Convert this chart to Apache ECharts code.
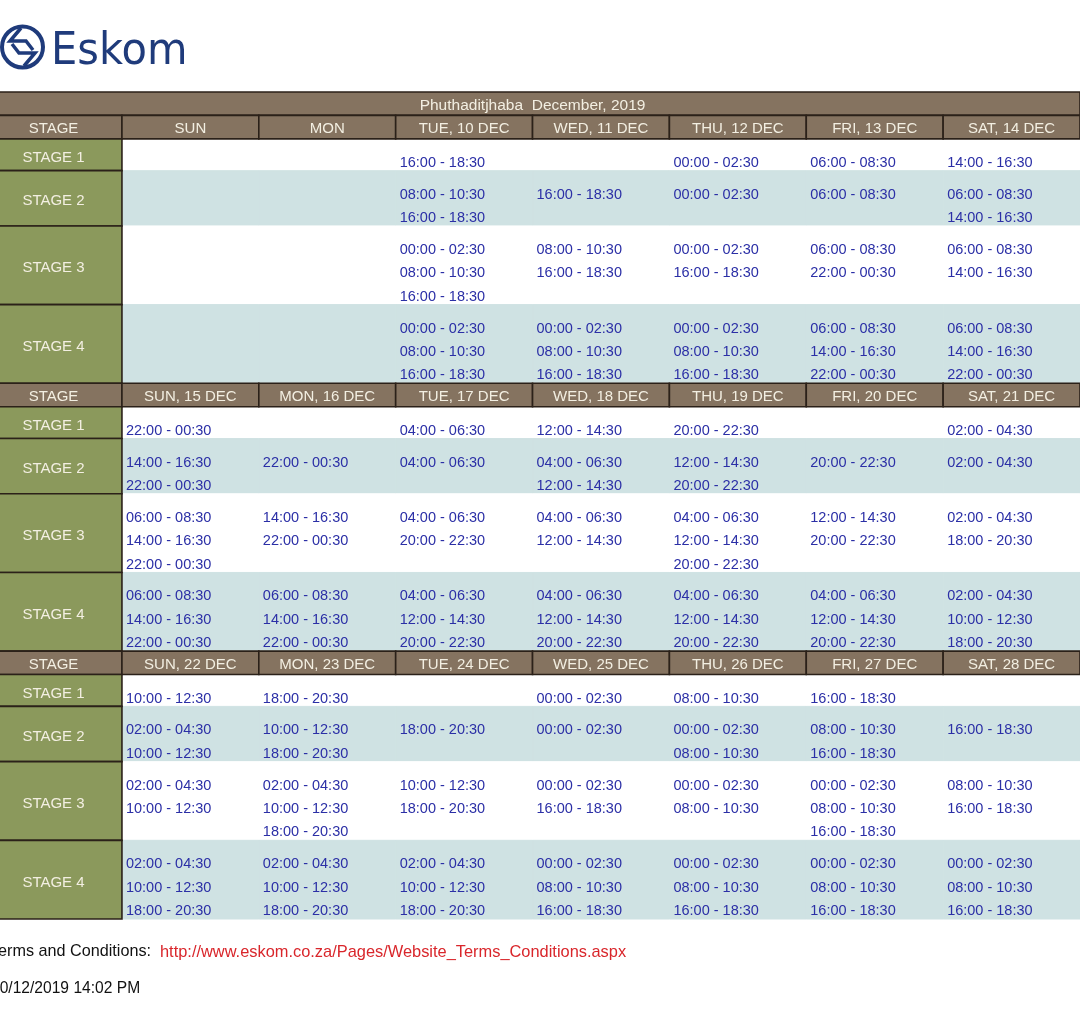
<!DOCTYPE html>
<html>
<head>
<meta charset="utf-8">
<script src="https://cdn.jsdelivr.net/npm/echarts@6/dist/echarts.min.js"></script>
<style>
  html, body { margin: 0; padding: 0; background: #fff; }
  #chart { width: 1080px; height: 1010px; }
</style>
</head>
<body>
<div id="chart"></div>
<script>
// schedule data
const title = 'Phuthaditjhaba  December, 2019';
const stages = ['STAGE 1', 'STAGE 2', 'STAGE 3', 'STAGE 4'];

const week1Days = ['SUN', 'MON', 'TUE, 10 DEC', 'WED, 11 DEC', 'THU, 12 DEC', 'FRI, 13 DEC', 'SAT, 14 DEC'];
const week1Slots = [
  [[], [], ['16:00 - 18:30'], [], ['00:00 - 02:30'], ['06:00 - 08:30'], ['14:00 - 16:30']],
  [[], [], ['08:00 - 10:30', '16:00 - 18:30'], ['16:00 - 18:30'], ['00:00 - 02:30'], ['06:00 - 08:30'], ['06:00 - 08:30', '14:00 - 16:30']],
  [[], [], ['00:00 - 02:30', '08:00 - 10:30', '16:00 - 18:30'], ['08:00 - 10:30', '16:00 - 18:30'], ['00:00 - 02:30', '16:00 - 18:30'], ['06:00 - 08:30', '22:00 - 00:30'], ['06:00 - 08:30', '14:00 - 16:30']],
  [[], [], ['00:00 - 02:30', '08:00 - 10:30', '16:00 - 18:30'], ['00:00 - 02:30', '08:00 - 10:30', '16:00 - 18:30'], ['00:00 - 02:30', '08:00 - 10:30', '16:00 - 18:30'], ['06:00 - 08:30', '14:00 - 16:30', '22:00 - 00:30'], ['06:00 - 08:30', '14:00 - 16:30', '22:00 - 00:30']]
];

const week2Days = ['SUN, 15 DEC', 'MON, 16 DEC', 'TUE, 17 DEC', 'WED, 18 DEC', 'THU, 19 DEC', 'FRI, 20 DEC', 'SAT, 21 DEC'];
const week2Slots = [
  [['22:00 - 00:30'], [], ['04:00 - 06:30'], ['12:00 - 14:30'], ['20:00 - 22:30'], [], ['02:00 - 04:30']],
  [['14:00 - 16:30', '22:00 - 00:30'], ['22:00 - 00:30'], ['04:00 - 06:30'], ['04:00 - 06:30', '12:00 - 14:30'], ['12:00 - 14:30', '20:00 - 22:30'], ['20:00 - 22:30'], ['02:00 - 04:30']],
  [['06:00 - 08:30', '14:00 - 16:30', '22:00 - 00:30'], ['14:00 - 16:30', '22:00 - 00:30'], ['04:00 - 06:30', '20:00 - 22:30'], ['04:00 - 06:30', '12:00 - 14:30'], ['04:00 - 06:30', '12:00 - 14:30', '20:00 - 22:30'], ['12:00 - 14:30', '20:00 - 22:30'], ['02:00 - 04:30', '18:00 - 20:30']],
  [['06:00 - 08:30', '14:00 - 16:30', '22:00 - 00:30'], ['06:00 - 08:30', '14:00 - 16:30', '22:00 - 00:30'], ['04:00 - 06:30', '12:00 - 14:30', '20:00 - 22:30'], ['04:00 - 06:30', '12:00 - 14:30', '20:00 - 22:30'], ['04:00 - 06:30', '12:00 - 14:30', '20:00 - 22:30'], ['04:00 - 06:30', '12:00 - 14:30', '20:00 - 22:30'], ['02:00 - 04:30', '10:00 - 12:30', '18:00 - 20:30']]
];

const week3Days = ['SUN, 22 DEC', 'MON, 23 DEC', 'TUE, 24 DEC', 'WED, 25 DEC', 'THU, 26 DEC', 'FRI, 27 DEC', 'SAT, 28 DEC'];
const week3Slots = [
  [['10:00 - 12:30'], ['18:00 - 20:30'], [], ['00:00 - 02:30'], ['08:00 - 10:30'], ['16:00 - 18:30'], []],
  [['02:00 - 04:30', '10:00 - 12:30'], ['10:00 - 12:30', '18:00 - 20:30'], ['18:00 - 20:30'], ['00:00 - 02:30'], ['00:00 - 02:30', '08:00 - 10:30'], ['08:00 - 10:30', '16:00 - 18:30'], ['16:00 - 18:30']],
  [['02:00 - 04:30', '10:00 - 12:30'], ['02:00 - 04:30', '10:00 - 12:30', '18:00 - 20:30'], ['10:00 - 12:30', '18:00 - 20:30'], ['00:00 - 02:30', '16:00 - 18:30'], ['00:00 - 02:30', '08:00 - 10:30'], ['00:00 - 02:30', '08:00 - 10:30', '16:00 - 18:30'], ['08:00 - 10:30', '16:00 - 18:30']],
  [['02:00 - 04:30', '10:00 - 12:30', '18:00 - 20:30'], ['02:00 - 04:30', '10:00 - 12:30', '18:00 - 20:30'], ['02:00 - 04:30', '10:00 - 12:30', '18:00 - 20:30'], ['00:00 - 02:30', '08:00 - 10:30', '16:00 - 18:30'], ['00:00 - 02:30', '08:00 - 10:30', '16:00 - 18:30'], ['00:00 - 02:30', '08:00 - 10:30', '16:00 - 18:30'], ['00:00 - 02:30', '08:00 - 10:30', '16:00 - 18:30']]
];

const termsLabel = 'Terms and Conditions:';
const termsUrl = 'http://www.eskom.co.za/Pages/Website_Terms_Conditions.aspx';
const printedAt = '10/12/2019 14:02 PM';

const weeks = [
  { days: week1Days, slots: week1Slots },
  { days: week2Days, slots: week2Slots },
  { days: week3Days, slots: week3Slots }
];

const BROWN = '#857360';
const GREEN = '#8b995c';
const BAND = '#cfe2e3';
const EDGE = '#2b2119';
const CREAM = '#f3efe2';
const BLUE = '#2b2fa6';
const NAVY = '#1f3b7b';
const FONT = '"Liberation Sans", Arial, sans-serif';

// one line of times = 1 unit on the y axis, rows get a little padding
const ROW_PAD = 0.36;
const LINE_TOP = 0.94;

// build the cell list: x in day-columns (stage column is -1..0), y in line units
const cells = [];
let y = 0;
cells.push({ x0: -1, x1: 7, y0: 0, y1: 1, fill: BROWN, stroke: EDGE, lines: [title], kind: 'title' });
y = 1;
weeks.forEach(w => {
  cells.push({ x0: -1, x1: 0, y0: y, y1: y + 1, fill: BROWN, stroke: EDGE, lines: ['STAGE'], kind: 'head' });
  w.days.forEach((d, i) => {
    cells.push({ x0: i, x1: i + 1, y0: y, y1: y + 1, fill: BROWN, stroke: EDGE, lines: [d], kind: 'head' });
  });
  y += 1;
  stages.forEach((s, si) => {
    const n = Math.max(1, ...w.slots[si].map(t => t.length));
    const h = n + ROW_PAD;
    w.slots[si].forEach((times, di) => {
      cells.push({ x0: di, x1: di + 1, y0: y, y1: y + h, fill: si % 2 ? BAND : '#ffffff', lines: times, kind: 'slot' });
    });
    cells.push({ x0: -1, x1: 0, y0: y, y1: y + h, fill: GREEN, stroke: EDGE, lines: [s], kind: 'stage' });
    y += h;
  });
});
const yMax = y;
// plain cells underneath, framed ones on top
cells.sort((a, b) => (a.kind === 'slot' ? 0 : 1) - (b.kind === 'slot' ? 0 : 1));

function renderCell(params, api) {
  const c = cells[params.dataIndex];
  const p0 = api.coord([api.value(0), api.value(1)]);
  const p1 = api.coord([api.value(2), api.value(3)]);
  const framed = !!c.stroke;
  const children = [{
    type: 'rect',
    shape: { x: p0[0], y: p0[1], width: p1[0] - p0[0], height: p1[1] - p0[1] },
    // unframed cells get a stroke in their own colour so no seam shows between them
    style: { fill: c.fill, stroke: framed ? c.stroke : c.fill, lineWidth: framed ? 1.6 : 1 }
  }];
  if (c.kind === 'slot') {
    c.lines.forEach((t, i) => {
      const ty = api.coord([api.value(0), api.value(1) + LINE_TOP + i])[1];
      children.push({
        type: 'text', x: p0[0] + 4, y: ty + 2,
        style: { text: t, fill: BLUE, font: '14.5px ' + FONT, align: 'left', verticalAlign: 'middle' }
      });
    });
  } else {
    const dy = c.kind === 'stage' ? 3 : 2;
    children.push({
      type: 'text', x: (p0[0] + p1[0]) / 2, y: (p0[1] + p1[1]) / 2 + dy,
      style: { text: c.lines[0], fill: CREAM, font: (c.kind === 'title' ? '15.5px ' : '15px ') + FONT, align: 'center', verticalAlign: 'middle' }
    });
  }
  return { type: 'group', children };
}

const chart = echarts.init(document.getElementById('chart'), null, { renderer: 'canvas' });
chart.setOption({
  animation: false,
  backgroundColor: '#ffffff',
  grid: { left: 0, right: 0, top: 92, bottom: 91 },
  xAxis: { type: 'value', min: -0.891, max: 7, show: false },
  yAxis: { type: 'value', min: 0, max: yMax, inverse: true, show: false },
  series: [{
    type: 'custom',
    renderItem: renderCell,
    data: cells.map(c => [c.x0, c.y0, c.x1, c.y1]),
    silent: true
  }],
  graphic: [
    // logo mark
    { type: 'circle', shape: { cx: 22.5, cy: 47, r: 20.5 }, style: { fill: 'none', stroke: NAVY, lineWidth: 4 } },
    { type: 'polyline', shape: { points: [[21, 28], [10, 41], [26, 41], [33, 50]] }, style: { fill: 'none', stroke: NAVY, lineWidth: 3.5 } },
    { type: 'polyline', shape: { points: [[24, 66], [35, 53], [19, 53], [12, 44]] }, style: { fill: 'none', stroke: NAVY, lineWidth: 3.5 } },
    { type: 'text', x: 51, y: 52, scaleX: 0.925, style: { text: 'Eskom', fill: NAVY, font: '45px "DejaVu Sans", sans-serif', verticalAlign: 'middle' } },
    // footer
    { type: 'text', x: -10, y: 952, style: { text: termsLabel, fill: '#111111', font: '16.2px ' + FONT, verticalAlign: 'middle' } },
    { type: 'text', x: 160, y: 952, style: { text: termsUrl, fill: '#d9262b', font: '16.4px ' + FONT, verticalAlign: 'middle' } },
    { type: 'text', x: -9, y: 989, style: { text: printedAt, fill: '#111111', font: '15.6px ' + FONT, verticalAlign: 'middle' } }
  ]
});
</script>
</body>
</html>
